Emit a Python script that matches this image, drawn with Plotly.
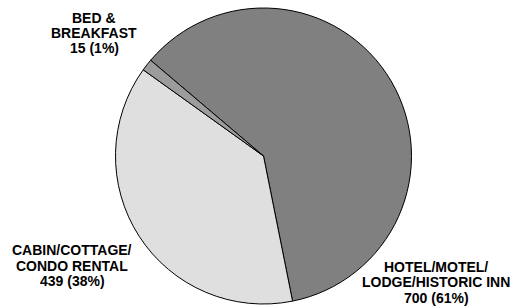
import plotly.graph_objects as go

categories = ["HOTEL/MOTEL/<br>LODGE/HISTORIC INN", "CABIN/COTTAGE/<br>CONDO RENTAL", "BED &<br>BREAKFAST"]
values = [700, 439, 15]
colors = ["#808080", "#dfdfdf", "#9c9c9c"]

# label anchor (paper px, from top-left) for each category block: center x, first line y
label_pos = [(436, 266.5), (72, 250), (94, 17.5)]
line_step = 15.5

W, H = 510, 307
total = sum(values)

fig = go.Figure(go.Pie(
    labels=[c.replace("<br>", " ") for c in categories],
    values=values,
    sort=False,
    direction="clockwise",
    rotation=-49.7,
    marker=dict(colors=colors, line=dict(color="#000000", width=1)),
    textinfo="none",
    hoverinfo="skip",
    showlegend=False,
    domain=dict(x=[(263.5 - 148) / W, (263.5 + 148) / W],
                y=[(H - 156 - 148) / H, (H - 156 + 148) / H]),
))

annotations = []
for cat, v, (cx, cy) in zip(categories, values, label_pos):
    lines = cat.split("<br>") + [f"{v} ({round(100 * v / total)}%)"]
    for i, ln in enumerate(lines):
        y = cy + i * line_step
        annotations.append(dict(
            x=cx / W, y=1 - y / H, xref="paper", yref="paper",
            text=f"<b>{ln}</b>", showarrow=False,
            xanchor="center", yanchor="middle",
            font=dict(family="Liberation Sans, Arial, sans-serif", size=14, color="#000000"),
        ))

fig.update_layout(
    width=W, height=H,
    margin=dict(l=0, r=0, t=0, b=0),
    paper_bgcolor="white", plot_bgcolor="white",
    annotations=annotations,
)

fig.write_html("out.html", config={"displayModeBar": False},
               post_script="document.body.style.margin='0';document.body.style.overflow='hidden';")
